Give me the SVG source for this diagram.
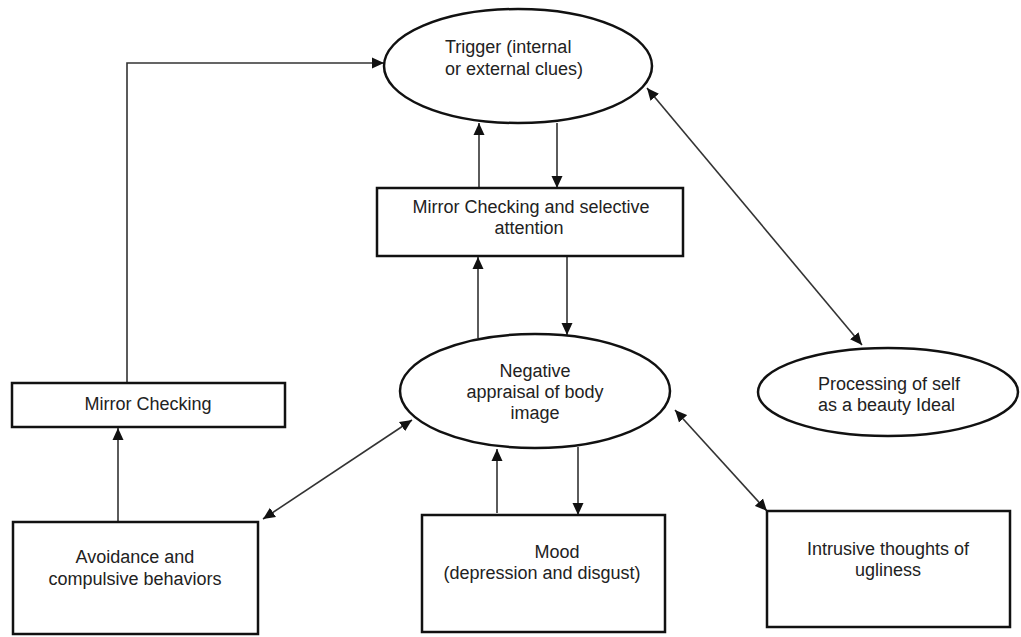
<svg xmlns="http://www.w3.org/2000/svg" width="1021" height="637" viewBox="0 0 1021 637">
<style>
.shape{fill:#fff;stroke:#111;stroke-width:2.5}
.conn{fill:none;stroke:#333;stroke-width:1.6}
text{font-family:"Liberation Sans",Arial,sans-serif;font-size:18px;fill:#222;text-anchor:middle}
text.l{text-anchor:start}
</style>
<defs>
<marker id="ah" viewBox="0 0 12 12" refX="12" refY="6" markerWidth="12" markerHeight="12" markerUnits="userSpaceOnUse" orient="auto-start-reverse">
<path d="M0,0.5 L12,6 L0,11.5 Z" fill="#111"/>
</marker>
</defs>
<rect width="1021" height="637" fill="#fff"/>
<g id="connectors">
<path class="conn" d="M127,383 V63 H384" marker-end="url(#ah)"/>
<path class="conn" d="M118,521 V428" marker-end="url(#ah)"/>
<path class="conn" d="M647,88 L862,345" marker-start="url(#ah)" marker-end="url(#ah)"/>
<path class="conn" d="M479,188 V123" marker-end="url(#ah)"/>
<path class="conn" d="M557,123 V188" marker-end="url(#ah)"/>
<path class="conn" d="M478,338 V257" marker-end="url(#ah)"/>
<path class="conn" d="M567,256 V335" marker-end="url(#ah)"/>
<path class="conn" d="M412,420 L263,519" marker-start="url(#ah)" marker-end="url(#ah)"/>
<path class="conn" d="M497,513 V449" marker-end="url(#ah)"/>
<path class="conn" d="M578,447 V515" marker-end="url(#ah)"/>
<path class="conn" d="M675,410 L767,511" marker-start="url(#ah)" marker-end="url(#ah)"/>
</g>
<g id="trigger">
<ellipse class="shape" cx="518" cy="66" rx="134" ry="57"/>
<text class="l" x="445" y="53">Trigger (internal</text>
<text class="l" x="445" y="75">or external clues)</text>
</g>
<g id="mirror-selective">
<rect class="shape" x="377" y="188" width="306" height="68"/>
<text x="531" y="213">Mirror Checking and selective</text>
<text x="529" y="234">attention</text>
</g>
<g id="negative">
<ellipse class="shape" cx="535" cy="391" rx="135" ry="57"/>
<text x="535" y="377">Negative</text>
<text x="535" y="398">appraisal of body</text>
<text x="535" y="419">image</text>
</g>
<g id="processing">
<ellipse class="shape" cx="888" cy="392" rx="130" ry="44"/>
<text class="l" x="818" y="390">Processing of self</text>
<text class="l" x="818" y="411">as a beauty Ideal</text>
</g>
<g id="mirror-checking">
<rect class="shape" x="12" y="383" width="273" height="44"/>
<text x="148" y="410">Mirror Checking</text>
</g>
<g id="avoidance">
<rect class="shape" x="13" y="522" width="245" height="112"/>
<text x="135" y="563">Avoidance and</text>
<text x="135" y="585">compulsive behaviors</text>
</g>
<g id="mood">
<rect class="shape" x="422" y="515" width="243" height="117"/>
<text x="557" y="558">Mood</text>
<text x="542" y="579">(depression and disgust)</text>
</g>
<g id="intrusive">
<rect class="shape" x="767" y="511" width="243" height="116"/>
<text x="888" y="555">Intrusive thoughts of</text>
<text x="888" y="576">ugliness</text>
</g>
</svg>
